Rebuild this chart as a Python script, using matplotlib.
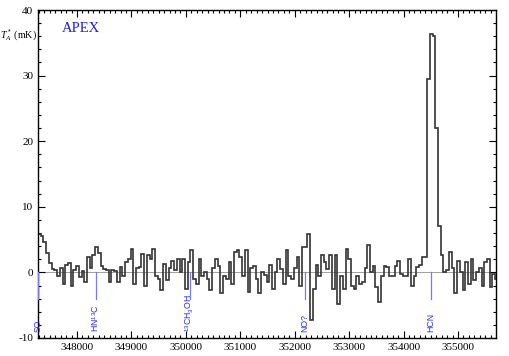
import numpy as np
import matplotlib
matplotlib.use("Agg")
import matplotlib.pyplot as plt
from matplotlib.ticker import MultipleLocator

plt.rcParams['font.family'] = 'Liberation Serif'
plt.rcParams['axes.unicode_minus'] = False
plt.rcParams['mathtext.fontset'] = 'custom'
plt.rcParams['mathtext.rm'] = 'Liberation Sans'
plt.rcParams['mathtext.it'] = 'Liberation Serif:italic'

# spectrum: first channel edge (MHz), channel width (MHz), intensities (mK)
freq_start = 347283
chan_width = 50
ta_mk = [
    5.9, 5.6, 4.6, 3.0, 1.4, 0.5, 0.3, -0.5, 0.6, -1.7,
    1.2, 1.5, -2.0, 0.3, 1.0, -0.7, 0.2, -1.5, 2.4, 0.6,
    2.6, 3.9, 3.0, 1.0, 0.5, 0.4, -1.5, 0.3, 0.2,
    -1.5, 0.8, -0.5, 1.6, 2.1, 3.6, -1.7, 0.6, 0.8, 2.8,
    -2.0, 2.6, 2.1, 3.6, -0.5, -1.0, -2.7, 1.3, -1.2, 0.6,
    1.8, 0.3, 2.1, 0.0, 2.1, -2.5, 1.6,
    3.4, -1.0, -1.7, 2.1, -0.5, 0.0, -1.0, -2.7, 0.6, 2.1,
    1.0, -3.2, -0.5, -1.0, 1.6, -1.7, 3.1, 3.4, 2.3, -0.5,
    3.4, -3.0, 0.6, 1.0, -1.0, -3.2, 0.0, -0.4,
    -1.5, 1.1, -2.5, 0.0, 2.1, 0.5, -1.7, 3.4, -0.5, -1.0,
    0.6, 2.3, -2.0, 3.9, 3.9, 5.9, -7.3, -2.5, 1.1, -0.5,
    2.6, 1.6, 0.5, 2.6, -2.5, 2.6, -4.8, -0.5,
    -2.5, 3.6, 2.1, -2.0, -2.5, -0.5, -1.7, -1.5, 0.6, 4.1,
    0.0, 1.0, -2.2, -4.5, -0.5, 1.0, 0.8, -0.5, -0.5, 1.0,
    1.8, -0.2, -0.5, -0.5, 2.1, -2.0, -0.5, 0.8,
    1.1, 2.3, 2.3, 29.5, 36.3, 36.0, 22.0, 7.0, 2.6, 0.0,
    0.3, 3.1, 0.6, -3.2, 1.8, 0.0, -2.7, 1.6, -1.7, 2.1,
    -1.2, 0.0, 0.6, -2.0, 1.6, 2.1, -2.2, -0.2, -1.0,
]

# line identifications
line_names = ['SO', 'HN$^{13}$C', '$^{13}$CH$_3$OH', 'NO?', 'HCN']
line_freqs = [347290, 348340, 350080, 352190, 354505]

edges = freq_start + chan_width * np.arange(len(ta_mk) + 1)

fig = plt.figure(figsize=(5.09, 3.56), dpi=100)
ax = fig.add_axes([0.0747, 0.0506, 0.8998, 0.9213])

ax.axhline(0, color='#909090', lw=0.6, zorder=1)
ax.stairs(ta_mk, edges, color='#333333', lw=1.2, zorder=2)

for name, f in zip(line_names, line_freqs):
    ax.plot([f, f], [0, -4], color='#7878ff', lw=0.9, zorder=3)
    ax.text(f, -9.15, name, rotation=90, ha='center', va='bottom',
            color='#2a2aff', fontsize=6.3, family='Liberation Sans')

ax.set_xlim(347283, 355698)
ax.set_ylim(-10, 40)
ax.xaxis.set_major_locator(MultipleLocator(1000))
ax.xaxis.set_minor_locator(MultipleLocator(100))
ax.yaxis.set_major_locator(MultipleLocator(10))
ax.yaxis.set_minor_locator(MultipleLocator(2))
ax.tick_params(which='both', direction='in', top=True, right=True,
               labelsize=8, width=0.8)
ax.tick_params(which='major', length=5)
ax.tick_params(which='minor', length=2.5)
for s in ax.spines.values():
    s.set_linewidth(1.0)

ax.text(-0.002, 0.924, '$T_A^*$ (mK)', transform=ax.transAxes, ha='right',
        va='center', fontsize=7.2)
ax.text(0.052, 0.962, 'APEX', transform=ax.transAxes, ha='left', va='top',
        color='#1a1aff', fontsize=10.5)

fig.savefig('out.png', dpi=100)
